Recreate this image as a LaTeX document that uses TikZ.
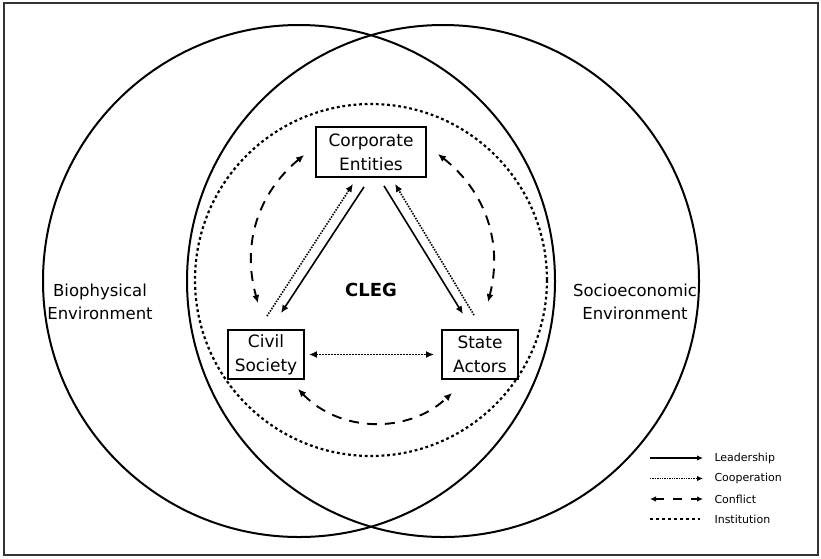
\documentclass[tikz,border=0pt]{standalone}
\usepackage{fontspec}
\setmainfont{DejaVu Sans}
\usetikzlibrary{arrows.meta,calc}
\begin{document}
\begin{tikzpicture}[x=1pt,y=-1pt,
  box/.style={draw,line width=1.8pt,align=center,inner sep=0pt,font=\fontsize{17}{24}\selectfont},
  side/.style={align=center,font=\fontsize{16.5}{23}\selectfont},
  lead/.style={line width=1.6pt,-{Latex[length=8pt,width=7pt]}},
  coop/.style={line width=1.6pt,dash pattern=on 1.5pt off 1.3pt,-{Latex[length=8pt,width=7pt]}},
  coopboth/.style={line width=1.6pt,dash pattern=on 1.5pt off 1.5pt,{Latex[length=8pt,width=7pt]}-{Latex[length=8pt,width=7pt]}},
  confl/.style={line width=1.9pt,dash pattern=on 10pt off 8pt,{Latex[length=8pt,width=7pt]}-{Latex[length=8pt,width=7pt]}},
  inst/.style={line width=2.2pt,dash pattern=on 2.8pt off 2.8pt},
  ring/.style={line width=2pt},
  legtext/.style={anchor=west,font=\fontsize{11}{13}\selectfont},
  lglead/.style={line width=1.5pt,-{Latex[length=6pt,width=5.5pt]}},
  lgcoop/.style={line width=1.5pt,dash pattern=on 1.3pt off 1.1pt,-{Latex[length=6pt,width=5.5pt]}},
  lgconfl/.style={line width=1.6pt,dash pattern=on 9pt off 9pt,{Latex[length=6pt,width=5.5pt]}-{Latex[length=6pt,width=5.5pt]}},
  lginst/.style={line width=1.6pt,dash pattern=on 3pt off 3pt}
]
\useasboundingbox (0,0) rectangle (821,558);
\draw[line width=1.6pt,black!80] (4,3) rectangle (818,555);

% environments
\draw[ring] (299,281) circle[radius=256pt];
\draw[ring] (443,281) circle[radius=256pt];
\draw[inst] (371,280) circle[radius=176pt];

\node[side] (bio) at (100,302) {Biophysical\\Environment};
\node[side] (soc) at (635,302) {Socioeconomic\\Environment};

% actors
\node[box,minimum width=110pt,minimum height=50pt] (ce) at (371,152) {Corporate\\Entities};
\node[box,minimum width=76pt,minimum height=49pt] (cs) at (266,354.5) {Civil\\Society};
\node[box,minimum width=76pt,minimum height=49pt] (sa) at (480,354.5) {State\\Actors};
\node[font=\bfseries\fontsize{18}{20}\selectfont] (cleg) at (371,290) {CLEG};

% leadership
\draw[lead] ($(ce.south)+(-7,9)$) -- ($(cs.north)+(15,-16)$);
\draw[lead] ($(ce.south)+(13,8)$) -- ($(sa.north)+(-17,-15)$);
% cooperation
\draw[coop] ($(cs.north)+(1,-13)$) -- ($(ce.south)+(-18,6)$);
\draw[coop] ($(sa.north)+(-6,-14)$) -- ($(ce.south)+(24,6)$);
\draw[coopboth] ($(cs.east)+(4,0)$) -- ($(sa.west)+(-7,0)$);
% conflict
\draw[confl] ($(ce.west)+(-11,3)$) to[bend right=33] ($(cs.north)+(-8,-26)$);
\draw[confl] ($(ce.east)+(11,2)$) to[bend left=33] ($(sa.north)+(8,-27)$);
\draw[confl] ($(cs.south)+(32,9)$) to[bend right=45] ($(sa.south)+(-28,13)$);

% legend
\node[legtext] (lg1) at (711,458) {Leadership};
\node[legtext] (lg2) at (711,478.5) {Cooperation};
\node[legtext] (lg3) at (711,499) {Conflict};
\node[legtext] (lg4) at (711,519) {Institution};
\coordinate (a1) at (650,458);
\coordinate (a2) at (650,478.5);
\coordinate (a3) at (650,499);
\coordinate (a4) at (650,519);
\draw[lglead] (a1) -- ($(lg1.west)+(-8,0)$);
\draw[lgcoop] (a2) -- ($(lg2.west)+(-8,0)$);
\draw[lgconfl] (a3) -- ($(lg3.west)+(-8,0)$);
\draw[lginst] (a4) -- ($(lg4.west)+(-11,0)$);
\end{tikzpicture}
\end{document}
